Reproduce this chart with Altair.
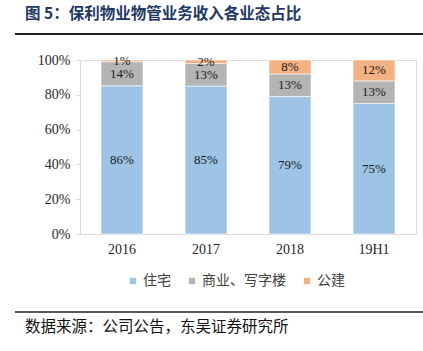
import altair as alt
import pandas as pd

years = ["2016", "2017", "2018", "19H1"]
series = ["住宅", "商业、写字楼", "公建"]
residential = [86, 85, 79, 75]
commercial = [14, 13, 13, 13]
public = [1, 2, 8, 12]
colors = ["#9DC3E6", "#B4B4B4", "#F4B183"]
y_ticks = [0, 0.2, 0.4, 0.6, 0.8, 1.0]
title_text = "图 5：保利物业物管业务收入各业态占比"
source_text = "数据来源：公司公告，东吴证券研究所"

rows = []
for i, y in enumerate(years):
    for j, (s, vals) in enumerate(zip(series, [residential, commercial, public])):
        rows.append({"year": y, "series": s, "idx": j, "v": vals[i], "label": f"{vals[i]}%"})
df = pd.DataFrame(rows)

W, H = 336, 174
PL, PT = 80, 60

base = alt.Chart(df).transform_stack(
    stack="v", groupby=["year"], sort=[alt.SortField("idx", order="ascending")],
    as_=["y0", "y1"], offset="normalize"
).transform_calculate(mid="(datum.y0 + datum.y1) / 2")

xaxis = alt.Axis(labelAngle=0, ticks=False, domainColor="#D9D9D9",
                 labelFont="Liberation Serif", labelFontSize=14,
                 labelColor="#262626", labelPadding=8)
yaxis = alt.Axis(format=".0%", values=y_ticks, grid=False,
                 domainColor="#D9D9D9", tickColor="#D9D9D9", tickSize=4,
                 labelFont="Liberation Serif", labelFontSize=14,
                 labelColor="#262626", labelPadding=6,
                 labelOverlap=False, labelFlush=False, labelBound=False)
xscale = alt.Scale(paddingInner=0.5, paddingOuter=0.25)
yscale = alt.Scale(domain=[0, 1])

bars = base.mark_bar(stroke="white", strokeWidth=0.6).encode(
    x=alt.X("year:N", sort=years, title=None, scale=xscale, axis=xaxis),
    y=alt.Y("y0:Q", title=None, scale=yscale, axis=yaxis),
    y2="y1:Q",
    color=alt.Color("series:N", sort=series,
                    scale=alt.Scale(domain=series, range=colors),
                    legend=alt.Legend(title=None, orient="none", direction="horizontal",
                                      legendX=46, legendY=214, symbolType="square",
                                      symbolSize=40, symbolStrokeWidth=0,
                                      labelFont="Noto Sans CJK SC", labelFontSize=14,
                                      labelColor="#404040", labelOffset=3,
                                      columnPadding=14)),
)

labels = base.mark_text(font="Liberation Serif", fontSize=13, color="#1a1a1a",
                        baseline="middle").encode(
    x=alt.X("year:N", sort=years, title=None, scale=xscale, axis=xaxis),
    y=alt.Y("mid:Q", title=None, scale=yscale, axis=yaxis),
    text="label:N",
)

title_df = pd.DataFrame({"t": [title_text]})
title = alt.Chart(title_df).mark_text(font="Noto Sans CJK SC", fontWeight="bold",
                                      fontSize=15.5, color="#1F3864", align="left",
                                      baseline="middle").encode(
    x=alt.value(25 - PL), y=alt.value(14 - PT), text="t:N")

src_df = pd.DataFrame({"t": [source_text]})
source = alt.Chart(src_df).mark_text(font="Noto Sans CJK SC", fontSize=15.5,
                                     color="#111111", align="left",
                                     baseline="middle").encode(
    x=alt.value(25 - PL), y=alt.value(327 - PT), text="t:N")

line_df = pd.DataFrame({"a": [0]})
top_line = alt.Chart(line_df).mark_rule(color="#222222", strokeWidth=2).encode(
    x=alt.value(15 - PL), x2=alt.value(423 - PL), y=alt.value(34 - PT))
bottom_line = alt.Chart(line_df).mark_rule(color="#222222", strokeWidth=1.5).encode(
    x=alt.value(15 - PL), x2=alt.value(423 - PL), y=alt.value(312 - PT))

chart = alt.layer(bars, labels, title, source, top_line, bottom_line).properties(
    width=W, height=H,
    autosize=alt.AutoSizeParams(type="none"),
    padding={"left": PL, "top": PT, "right": 423 - PL - W, "bottom": 351 - PT - H},
).configure_view(stroke=None).configure(background="white")

chart.save("out.html", embed_options={"renderer": "svg", "actions": False})
